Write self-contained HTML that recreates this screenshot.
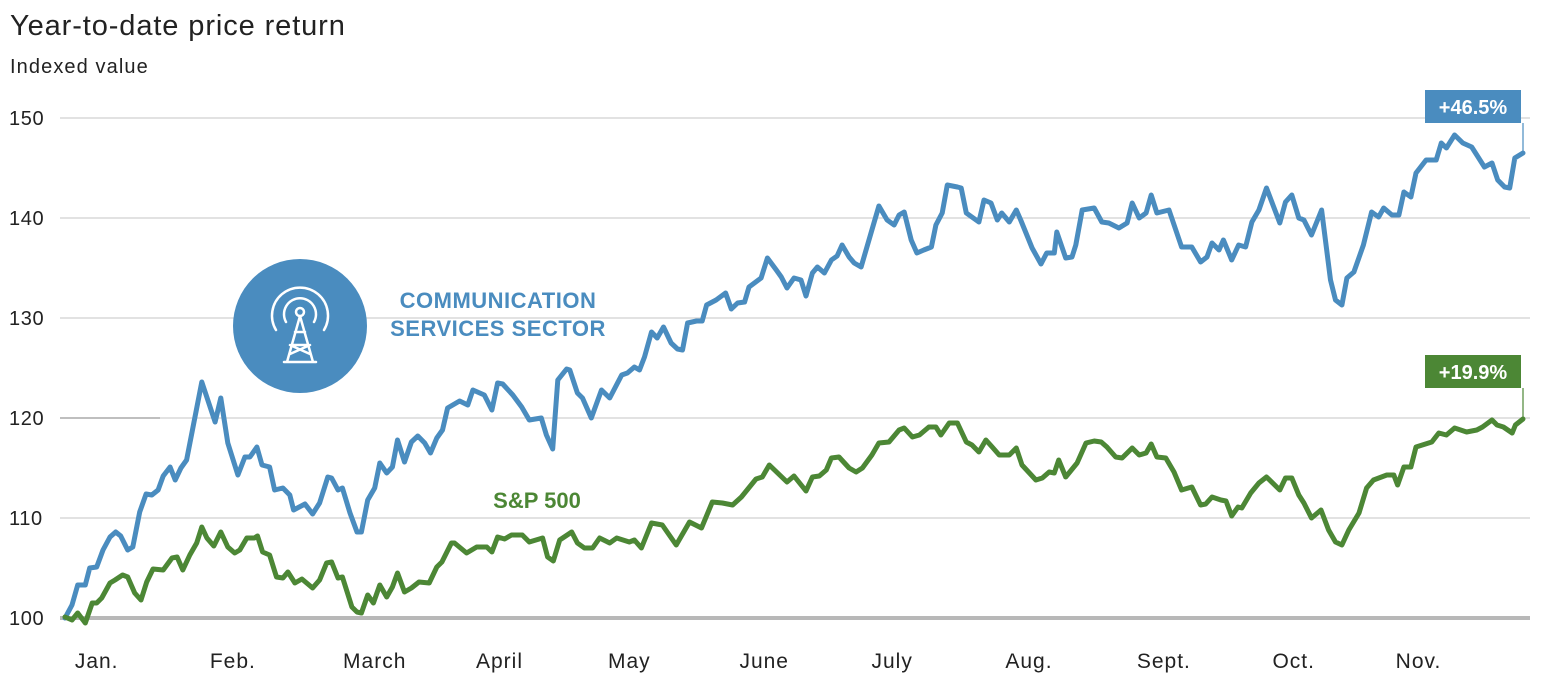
<!DOCTYPE html>
<html><head><meta charset="utf-8"><style>
body{margin:0;background:#fff;width:1544px;height:684px;overflow:hidden;font-family:"Liberation Sans",sans-serif}
svg text{font-family:"Liberation Sans",sans-serif}
</style></head><body>
<svg id="chart" width="1544" height="684" viewBox="0 0 1544 684">
<text x="10" y="35" font-size="29" letter-spacing="0.9" fill="#222">Year-to-date price return</text>
<text x="10" y="73" font-size="20" letter-spacing="1.1" fill="#222">Indexed value</text>
<g id="grid"></g>
<g id="icon">
<circle cx="300" cy="326" r="67" fill="#4a8cbf"/>
<g fill="none" stroke="#fff" stroke-width="2.5" stroke-linecap="round">
<path d="M286 322 A16 16 0 1 1 314 322"/><path d="M276 330 A28 28 0 1 1 324 330"/>
<circle cx="300" cy="312" r="4"/>
<path d="M300 316 L287 362 M300 316 L313 362 M284 362 L316 362 M292 345 L308 345 M295 332 L305 332 M290 354 L310 345 M290 345 L310 354"/>
</g></g>
<text font-size="22" font-weight="bold" letter-spacing="0.5" fill="#4a8cbf" text-anchor="middle"><tspan x="498" y="308">COMMUNICATION</tspan><tspan x="498" y="336">SERVICES SECTOR</tspan></text>
<text x="537" y="508" font-size="22" font-weight="bold" fill="#4c8735" text-anchor="middle">S&amp;P 500</text>
<g id="series"></g>
</svg>
<script>
const yTicks=[100,110,120,130,140,150];
const months=["Jan.","Feb.","March","April","May","June","July","Aug.","Sept.","Oct.","Nov."];
const monthDays=[5,26.5,48.9,68.6,89.1,110.4,130.6,152.2,173.5,194,213.7];
const commDays=[0,1.1,2.0,3.2,3.9,5.0,6.0,7.1,8.0,8.8,9.9,10.7,11.8,12.8,13.7,14.7,15.5,16.6,17.4,18.3,19.2,21.6,23.7,24.6,25.7,27.3,28.4,29.2,30.3,31.1,32.3,33.1,34.4,35.5,36.1,37.9,39.1,40.2,41.5,42.1,43.1,43.8,45.0,46.1,46.8,47.8,48.9,49.7,50.8,51.7,52.5,53.6,54.7,55.7,56.8,57.7,58.7,59.6,60.4,62.3,63.6,64.4,66.2,67.4,68.3,69.1,70.7,72.1,73.3,75.2,76.0,77.0,77.8,79.2,79.7,80.9,81.7,83.1,84.7,86.0,87.9,88.8,89.9,90.7,91.5,92.6,93.5,94.5,95.7,96.7,97.5,98.3,99.7,100.6,101.3,102.8,104.3,105.2,106.2,107.3,108.0,109.9,110.9,112.3,113.1,114.0,115.1,116.2,117.0,118.0,118.8,119.9,121.0,121.9,122.7,123.8,124.6,125.7,127.3,128.5,129.8,130.9,131.7,132.5,133.6,134.5,135.6,136.8,137.5,138.5,139.3,140.9,141.5,142.3,144.3,145.1,146.2,147.2,147.9,149.1,150.2,150.9,152.7,154.1,155.0,156.2,156.6,158.0,159.0,159.6,160.6,162.5,163.7,164.8,166.4,167.7,168.5,169.6,170.7,171.5,172.4,174.3,176.3,177.9,179.3,180.3,181.1,182.2,182.9,184.2,185.3,186.4,187.4,188.5,189.7,191.8,192.7,193.7,194.8,195.6,196.8,198.4,199.8,200.6,201.6,202.4,203.5,205.0,206.3,207.4,208.2,209.5,210.6,211.4,212.5,213.3,214.9,216.5,217.3,218.1,219.4,220.7,222.1,222.9,224.1,225.3,226.2,227.3,228.1,228.9,230.2];
const commValues=[100,101.3,103.3,103.3,105.0,105.1,106.8,108.1,108.6,108.2,106.8,107.1,110.6,112.4,112.3,112.8,114.2,115.1,113.8,115.0,115.8,123.6,119.6,122.0,117.5,114.3,116.1,116.1,117.1,115.3,115.1,112.8,113.0,112.3,110.8,111.4,110.4,111.5,114.1,114.0,112.8,113.0,110.5,108.6,108.6,111.8,113.0,115.5,114.5,115.1,117.8,115.6,117.6,118.2,117.5,116.5,118.0,118.8,121.0,121.7,121.3,122.8,122.3,120.8,123.5,123.4,122.3,121.1,119.8,120.0,118.3,116.9,123.8,124.9,124.8,122.5,122.0,120.0,122.8,122.0,124.3,124.5,125.1,124.8,126.1,128.6,128.0,129.1,127.5,126.9,126.8,129.5,129.7,129.7,131.3,131.8,132.5,130.9,131.5,131.6,133.1,134.0,136.0,134.8,134.1,133.0,134.0,133.8,132.2,134.5,135.1,134.5,135.8,136.2,137.3,136.1,135.5,135.1,138.6,141.2,139.8,139.3,140.3,140.6,137.8,136.5,136.8,137.1,139.3,140.5,143.3,143.1,143.0,140.5,139.6,141.8,141.5,139.8,140.5,139.6,140.8,139.8,137.0,135.4,136.5,136.5,138.6,136.0,136.1,137.3,140.8,141.0,139.6,139.5,139.0,139.5,141.5,140.0,140.5,142.3,140.5,140.8,137.1,137.1,135.6,136.1,137.5,136.8,137.8,135.8,137.3,137.1,139.6,140.8,143.0,139.5,141.6,142.3,140.0,139.8,138.3,140.8,133.8,131.8,131.3,134.0,134.6,137.3,140.6,140.1,141.0,140.3,140.3,142.6,142.1,144.5,145.8,145.8,147.5,147.0,148.3,147.5,147.1,146.3,145.1,145.5,143.8,143.1,143.0,146.0,146.5];
const spDays=[0,1.1,2.0,3.2,4.3,5.0,5.8,7.1,7.9,9.1,9.9,11.0,12.0,12.9,13.9,15.5,16.9,17.7,18.6,19.7,20.8,21.6,22.4,23.5,24.6,25.7,26.8,27.6,28.7,29.9,30.4,31.2,32.3,33.4,34.4,35.2,36.3,37.4,39.1,40.2,41.3,42.1,43.1,43.8,45.3,46.1,46.8,47.8,48.7,49.7,50.8,51.7,52.5,53.6,54.7,55.9,57.5,58.7,59.5,61.0,61.5,63.4,65.0,66.6,67.4,68.3,69.4,70.5,72.2,73.3,75.4,76.2,77.1,78.1,80.0,80.9,82.0,83.3,84.4,86.0,87.1,89.1,89.9,91.0,92.6,94.3,96.5,98.6,100.5,102.2,103.8,105.4,106.8,109.1,110.1,111.2,114.0,115.1,117.0,118.0,119.1,120.2,121.0,122.2,123.8,124.9,125.9,127.4,128.5,130.1,131.7,132.5,133.8,134.9,136.4,137.5,138.3,139.6,140.9,142.3,143.2,144.3,145.4,146.4,147.5,149.1,150.2,151.1,153.3,154.3,155.4,156.2,156.9,158.0,159.8,161.2,162.5,163.6,164.5,165.9,166.9,168.5,169.6,170.7,171.5,172.4,173.8,175.1,176.3,177.9,179.3,180.1,181.1,182.5,183.3,184.2,185.2,185.8,187.2,188.5,189.7,191.8,192.7,193.7,194.8,195.6,196.8,198.3,199.5,200.6,201.6,202.7,204.3,205.5,206.6,208.7,209.8,210.4,211.4,212.5,213.3,215.8,216.9,218.1,219.4,221.3,222.9,223.8,225.3,226.1,227.1,228.5,229.0,230.2];
const spValues=[100.1,99.8,100.5,99.5,101.5,101.5,102.0,103.5,103.8,104.3,104.1,102.5,101.8,103.6,104.9,104.8,106.0,106.1,104.8,106.3,107.5,109.1,108.0,107.2,108.6,107.1,106.5,106.8,108.0,108.0,108.2,106.6,106.3,104.1,104.0,104.6,103.5,103.9,103.0,103.8,105.5,105.6,104.0,104.1,101.1,100.6,100.5,102.3,101.5,103.3,102.1,103.1,104.5,102.6,103.0,103.6,103.5,105.1,105.6,107.5,107.5,106.5,107.1,107.1,106.6,108.1,107.9,108.3,108.3,107.6,108.0,106.1,105.7,107.8,108.6,107.5,107.0,107.0,108.0,107.5,108.0,107.6,107.8,107.0,109.5,109.3,107.3,109.6,109.0,111.6,111.5,111.3,112.1,113.9,114.1,115.3,113.6,114.2,112.7,114.1,114.2,114.8,116.0,116.1,115.0,114.6,115.0,116.3,117.5,117.6,118.8,119.0,118.1,118.3,119.1,119.1,118.3,119.5,119.5,117.6,117.3,116.6,117.8,117.1,116.3,116.3,117.0,115.3,113.8,114.0,114.6,114.5,115.8,114.1,115.5,117.5,117.7,117.6,117.1,116.1,116.0,117.0,116.3,116.5,117.4,116.1,116.0,114.6,112.8,113.1,111.3,111.4,112.1,111.8,111.7,110.2,111.1,111.0,112.5,113.5,114.1,112.8,114.0,114.0,112.3,111.5,110.0,110.8,108.8,107.6,107.3,108.8,110.5,113.0,113.8,114.3,114.3,113.3,115.1,115.1,117.1,117.6,118.5,118.3,119.0,118.6,118.8,119.1,119.8,119.3,119.1,118.5,119.3,119.9];

const NS="http://www.w3.org/2000/svg";
const X=d=>65+d*(1458/230.2);
const Y=v=>618-(v-100)*10;
const grid=document.getElementById('grid');
const series=document.getElementById('series');
function mk(tag,attrs,parent){const e=document.createElementNS(NS,tag);for(const k in attrs)e.setAttribute(k,attrs[k]);parent.appendChild(e);return e;}
yTicks.forEach(t=>{
  const l=mk('line',{x1:60,x2:1530,y1:Y(t),y2:Y(t),stroke:t===100?'#b8b8b8':'#d0d0d0','stroke-width':t===100?4:1.3},grid);
  
  
  const tx=mk('text',{x:9,y:Y(t)+7,'font-size':20,'letter-spacing':0.6,fill:'#222'},grid);
  tx.textContent=t;
  
  
});
const dk=mk('line',{x1:60,x2:160,y1:Y(120),y2:Y(120),stroke:'#a0a0a0','stroke-width':1.3},grid);


months.forEach((m,i)=>{
  const tx=mk('text',{x:X(monthDays[i]),y:668,'font-size':21,'letter-spacing':1,fill:'#222','text-anchor':'middle'},grid);
  tx.textContent=m;
  
  
});
function drawLine(days,vals,color,name){
  const d=days.map((t,i)=>(i?'L':'M')+X(t).toFixed(1)+' '+Y(vals[i]).toFixed(1)).join(' ');
  const p=mk('path',{d:d,fill:'none',stroke:color,'stroke-width':5,'stroke-linejoin':'round','stroke-linecap':'round'},series);
  
  
}
function callout(days,vals,color,name,boxY){
  const lx=X(days[days.length-1]), ly=Y(vals[vals.length-1]);
  const ln=mk('line',{x1:lx,x2:lx,y1:boxY+33,y2:ly,stroke:color,'stroke-width':1.2},series);
  
  
  const r=mk('rect',{x:1425,y:boxY,width:96,height:33,fill:color},series);
  
  
  const pct=vals[vals.length-1]-100;
  const t=mk('text',{x:1473,y:boxY+24,'font-size':20,'font-weight':'bold',fill:'#fff','text-anchor':'middle'},series);
  t.textContent='+'+pct.toFixed(1)+'%';
  
  
}
drawLine(commDays,commValues,'#4a8cbf','communication-services-line');
drawLine(spDays,spValues,'#4c8735','sp500-line');
callout(commDays,commValues,'#4a8cbf','communication-callout',90);
callout(spDays,spValues,'#4c8735','sp500-callout',355);
</script>
</body></html>
